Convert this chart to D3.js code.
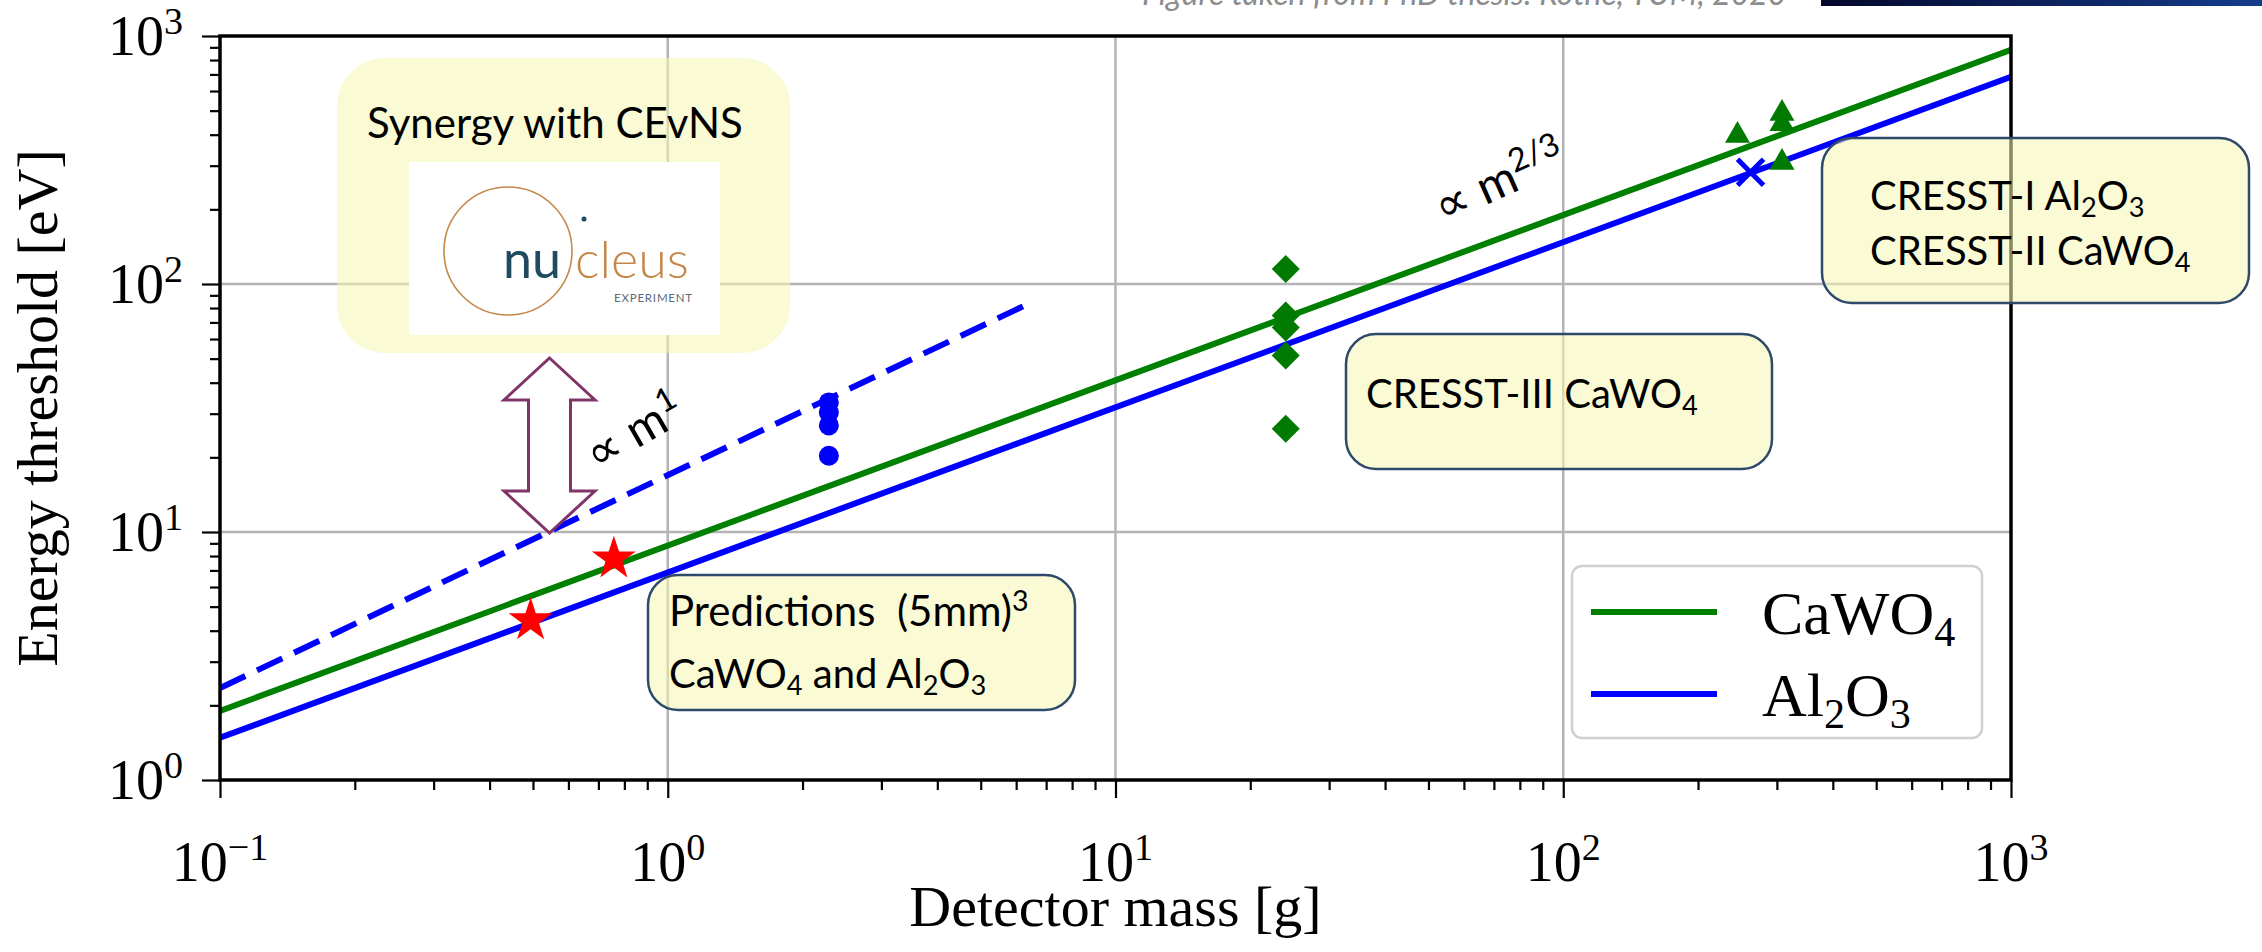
<!DOCTYPE html>
<html>
<head>
<meta charset="utf-8">
<script src="https://cdn.jsdelivr.net/npm/d3@7"></script>
<style>
  body { margin: 0; background: #fff; }
  svg { display: block; }
  text { white-space: pre; }
</style>
</head>
<body>
<div id="chart-area"></div>
<script>
// values: detector mass [g], energy threshold [eV]
const fitMass     = [0.1, 1000];
const cawoFit     = [1.9, 880];
const alFit       = [1.48, 684];
const scaleMass   = [0.1, 6.55];     // dashed "∝ m" line
const scaleE      = [2.35, 85];
const dotMass     = [2.29, 2.29, 2.29, 2.29];
const dotE        = [33.3, 30.3, 26.9, 20.3];
const cresst3Mass = [24, 24, 24, 24, 24];
const cresst3E    = [115, 74.6, 66.8, 51.5, 26.1];
const cresst2Mass = [245, 308, 308, 308];
const cresst2E    = [397, 487, 443, 309];
const cresst1Mass = [262];
const cresst1E    = [282];
const predMass    = [0.494, 0.758];
const predE       = [4.4, 7.8];
const xTicks      = [0.1, 1, 10, 100, 1000];
const xTickExp    = ["\u22121", "0", "1", "2", "3"];
const yTicks      = [1, 10, 100, 1000];
const yTickExp    = ["0", "1", "2", "3"];
const legendNames = [[["CaWO"], ["4", "sub"]], [["Al"], ["2", "sub"], ["O"], ["3", "sub"]]];
const legendColors = ["#008000", "#0000ff"];

let width = 2262, height = 952;
let pLeft = 220, pRight = 2011, pTop = 36, pBottom = 780;

let svg = d3.select("#chart-area").append("svg")
	.attr("width", width)
	.attr("height", height);

let x = d3.scaleLog().domain([0.1, 1000]).range([pLeft, pRight]);
let y = d3.scaleLog().domain([1, 1000]).range([pBottom, pTop]);

const serif = "'Liberation Serif', 'Times New Roman', serif";
const sans  = "Lato, 'Open Sans', sans-serif";

// rich text with sub / superscripts
function rich(sel, parts, fs, supShift = 0.42, subShift = 0.22) {
	let shift = 0;
	parts.forEach(p => {
		let t = p[0], m = p[1];
		let target = m === "sup" ? -supShift * fs : m === "sub" ? subShift * fs : 0;
		let ts = sel.append("tspan").text(t).attr("dy", target - shift);
		if (m) ts.attr("font-size", 0.68 * fs);
		shift = target;
	});
}

let defs = svg.append("defs");
defs.append("clipPath").attr("id", "plot-clip")
	.append("rect").attr("x", pLeft).attr("y", pTop)
	.attr("width", pRight - pLeft).attr("height", pBottom - pTop);

// top-right remnants of the slide
let grad = defs.append("linearGradient").attr("id", "bar-grad");
grad.append("stop").attr("offset", "0%").attr("stop-color", "#04072a");
grad.append("stop").attr("offset", "100%").attr("stop-color", "#143c8c");
svg.append("rect").attr("x", 1821).attr("y", 0).attr("width", width - 1821).attr("height", 6)
	.attr("fill", "url(#bar-grad)");
svg.append("text").attr("x", 1142).attr("y", 5)
	.attr("font-family", sans).attr("font-style", "italic").attr("font-size", 32)
	.attr("fill", "#8c8c8c")
	.text("Figure taken from PhD thesis: Rothe, TUM, 2020");

// grid
let grid = svg.append("g").attr("stroke", "#b4b4b4").attr("stroke-width", 2.5);
grid.selectAll(".gx").data(xTicks.slice(1, -1)).enter().append("line")
	.attr("x1", d => x(d)).attr("x2", d => x(d)).attr("y1", pTop).attr("y2", pBottom);
grid.selectAll(".gy").data(yTicks.slice(1, -1)).enter().append("line")
	.attr("y1", d => y(d)).attr("y2", d => y(d)).attr("x1", pLeft).attr("x2", pRight);

// lines
let plot = svg.append("g").attr("clip-path", "url(#plot-clip)");
let line = d3.line().x(d => x(d[0])).y(d => y(d[1]));

plot.append("path").datum(d3.zip(scaleMass, scaleE))
	.attr("d", line).attr("fill", "none").attr("stroke", "#0000ff")
	.attr("stroke-width", 6).attr("stroke-dasharray", "28,13");
plot.append("path").datum(d3.zip(fitMass, cawoFit))
	.attr("d", line).attr("fill", "none").attr("stroke", legendColors[0]).attr("stroke-width", 6);
plot.append("path").datum(d3.zip(fitMass, alFit))
	.attr("d", line).attr("fill", "none").attr("stroke", legendColors[1]).attr("stroke-width", 6);

// markers
plot.selectAll(".dot").data(d3.zip(dotMass, dotE)).enter().append("circle")
	.attr("cx", d => x(d[0])).attr("cy", d => y(d[1])).attr("r", 10).attr("fill", "#0000ff");

plot.selectAll(".diamond").data(d3.zip(cresst3Mass, cresst3E)).enter().append("path")
	.attr("d", d3.symbol(d3.symbolSquare, 392))
	.attr("transform", d => `translate(${x(d[0])},${y(d[1])}) rotate(45)`)
	.attr("fill", "#007a00");

plot.selectAll(".tri").data(d3.zip(cresst2Mass, cresst2E)).enter().append("path")
	.attr("d", d3.symbol(d3.symbolTriangle, 270))
	.attr("transform", d => `translate(${x(d[0])},${y(d[1])})`)
	.attr("fill", "#007a00");

plot.selectAll(".cross").data(d3.zip(cresst1Mass, cresst1E)).enter().append("path")
	.attr("d", d => {
		let cx = x(d[0]), cy = y(d[1]), h = 13;
		return `M${cx - h},${cy - h}L${cx + h},${cy + h}M${cx - h},${cy + h}L${cx + h},${cy - h}`;
	})
	.attr("stroke", "#0000ff").attr("stroke-width", 5);

plot.selectAll(".star").data(d3.zip(predMass, predE)).enter().append("path")
	.attr("d", d3.symbol(d3.symbolStar, 600))
	.attr("transform", d => `translate(${x(d[0])},${y(d[1])})`)
	.attr("fill", "#ff0000");

// axes
let minorX = x.ticks().filter(v => !xTicks.includes(v));
let minorY = y.ticks().filter(v => !yTicks.includes(v));

function styleAxis(g) {
	g.select(".domain").remove();
	g.selectAll(".tick line").attr("stroke", "#000").attr("stroke-width", 2.2);
}

svg.append("g").attr("transform", `translate(0,${pBottom})`)
	.call(d3.axisBottom(x).tickValues(xTicks).tickSize(18).tickFormat("")).call(styleAxis);
svg.append("g").attr("transform", `translate(0,${pBottom})`)
	.call(d3.axisBottom(x).tickValues(minorX).tickSize(10).tickFormat("")).call(styleAxis);
svg.append("g").attr("transform", `translate(${pLeft},0)`)
	.call(d3.axisLeft(y).tickValues(yTicks).tickSize(18).tickFormat("")).call(styleAxis);
svg.append("g").attr("transform", `translate(${pLeft},0)`)
	.call(d3.axisLeft(y).tickValues(minorY).tickSize(10).tickFormat("")).call(styleAxis);

svg.append("rect").attr("x", pLeft).attr("y", pTop)
	.attr("width", pRight - pLeft).attr("height", pBottom - pTop)
	.attr("fill", "none").attr("stroke", "#000").attr("stroke-width", 3.5);

// tick labels
xTicks.forEach((v, i) => {
	let t = svg.append("text").attr("x", x(v)).attr("y", 881)
		.attr("text-anchor", "middle").attr("font-family", serif).attr("font-size", 56);
	rich(t, [["10"], [xTickExp[i], "sup"]], 56, 0.38);
});
yTicks.forEach((v, i) => {
	let t = svg.append("text").attr("x", 183).attr("y", y(v) + 19)
		.attr("text-anchor", "end").attr("font-family", serif).attr("font-size", 56);
	rich(t, [["10"], [yTickExp[i], "sup"]], 56, 0.38);
});

svg.append("text").text("Detector mass [g]")
	.attr("x", (pLeft + pRight) / 2).attr("y", 926)
	.attr("text-anchor", "middle").attr("font-family", serif).attr("font-size", 58);
svg.append("text").text("Energy threshold [eV]")
	.attr("transform", `translate(57,${(pTop + pBottom) / 2}) rotate(-90)`)
	.attr("text-anchor", "middle").attr("font-family", serif).attr("font-size", 58);

// legend
let legend = svg.append("g");
legend.append("rect").attr("x", 1572).attr("y", 566).attr("width", 410).attr("height", 172)
	.attr("rx", 10).attr("fill", "#fff").attr("stroke", "#d0d0d0").attr("stroke-width", 2.5);
legendNames.forEach((parts, i) => {
	let ly = 612 + i * 82;
	legend.append("line").attr("x1", 1591).attr("x2", 1717).attr("y1", ly).attr("y2", ly)
		.attr("stroke", legendColors[i]).attr("stroke-width", 6);
	let t = legend.append("text").attr("x", 1762).attr("y", ly + 22)
		.attr("font-family", serif).attr("font-size", 62);
	rich(t, parts, 62, 0.42, 0.2);
});

// annotation boxes of the slide
function box(bx, by, bw, bh, r, stroke) {
	svg.append("rect").attr("x", bx).attr("y", by).attr("width", bw).attr("height", bh)
		.attr("rx", r).attr("fill", "rgb(245,245,178)").attr("fill-opacity", 0.55)
		.attr("stroke", stroke || "none").attr("stroke-width", 2.5);
}
function label(lx, ly, parts, fs) {
	let t = svg.append("text").attr("x", lx).attr("y", ly)
		.attr("font-family", sans).attr("font-size", fs).attr("fill", "#000");
	rich(t, parts, fs, 0.36, 0.18);
	return t;
}

box(337, 58, 453, 295, 48);
label(367, 138, [["Synergy with CEvNS"]], 42);

// nucleus logo
svg.append("rect").attr("x", 409).attr("y", 162).attr("width", 311).attr("height", 173).attr("fill", "#fff");
svg.append("circle").attr("cx", 508).attr("cy", 251).attr("r", 64)
	.attr("fill", "none").attr("stroke", "#c4874a").attr("stroke-width", 1.6);
svg.append("circle").attr("cx", 584).attr("cy", 219).attr("r", 2.5).attr("fill", "#1f4a60");
svg.append("text").attr("x", 503).attr("y", 278).attr("font-family", sans)
	.attr("font-size", 52).attr("fill", "#1f4a60").text("nu");
svg.append("text").attr("x", 575).attr("y", 278).attr("font-family", sans).attr("font-weight", 300)
	.attr("font-size", 52).attr("fill", "#c4874a").text("cleus");
svg.append("text").attr("x", 614).attr("y", 302).attr("font-family", sans)
	.attr("font-size", 11.5).attr("letter-spacing", 0.8).attr("fill", "#5b6b7c").text("EXPERIMENT");

box(648, 575, 427, 135, 30, "#2e4a6b");
label(669, 626, [["Predictions  (5mm)"], ["3", "sup"]], 42);
label(669, 688, [["CaWO"], ["4", "sub"], [" and Al"], ["2", "sub"], ["O"], ["3", "sub"]], 40);

box(1346, 334, 426, 135, 30, "#2e4a6b");
label(1366, 408, [["CRESST-III CaWO"], ["4", "sub"]], 40);

box(1822, 138, 427, 165, 30, "#2e4a6b");
label(1870, 210, [["CRESST-I Al"], ["2", "sub"], ["O"], ["3", "sub"]], 40);
label(1870, 265, [["CRESST-II CaWO"], ["4", "sub"]], 40);

// double arrow
let ax = 549.5, aTop = 358, aBot = 533, hw = 45.5, sw = 21, hh = 42;
svg.append("path")
	.attr("d", `M${ax},${aTop} L${ax + hw},${aTop + hh} L${ax + sw},${aTop + hh} L${ax + sw},${aBot - hh}
		L${ax + hw},${aBot - hh} L${ax},${aBot} L${ax - hw},${aBot - hh} L${ax - sw},${aBot - hh}
		L${ax - sw},${aTop + hh} L${ax - hw},${aTop + hh} Z`)
	.attr("fill", "#fff").attr("stroke", "#813468").attr("stroke-width", 3);

// scaling labels
let m1 = label(0, 0, [["\u221D m"], ["1", "sup"]], 48);
m1.attr("transform", "translate(597,472) rotate(-30)");
let m23 = label(0, 0, [["\u221D m"], ["2/3", "sup"]], 48);
m23.attr("transform", "translate(1443,224) rotate(-24)");
</script>
</body>
</html>
